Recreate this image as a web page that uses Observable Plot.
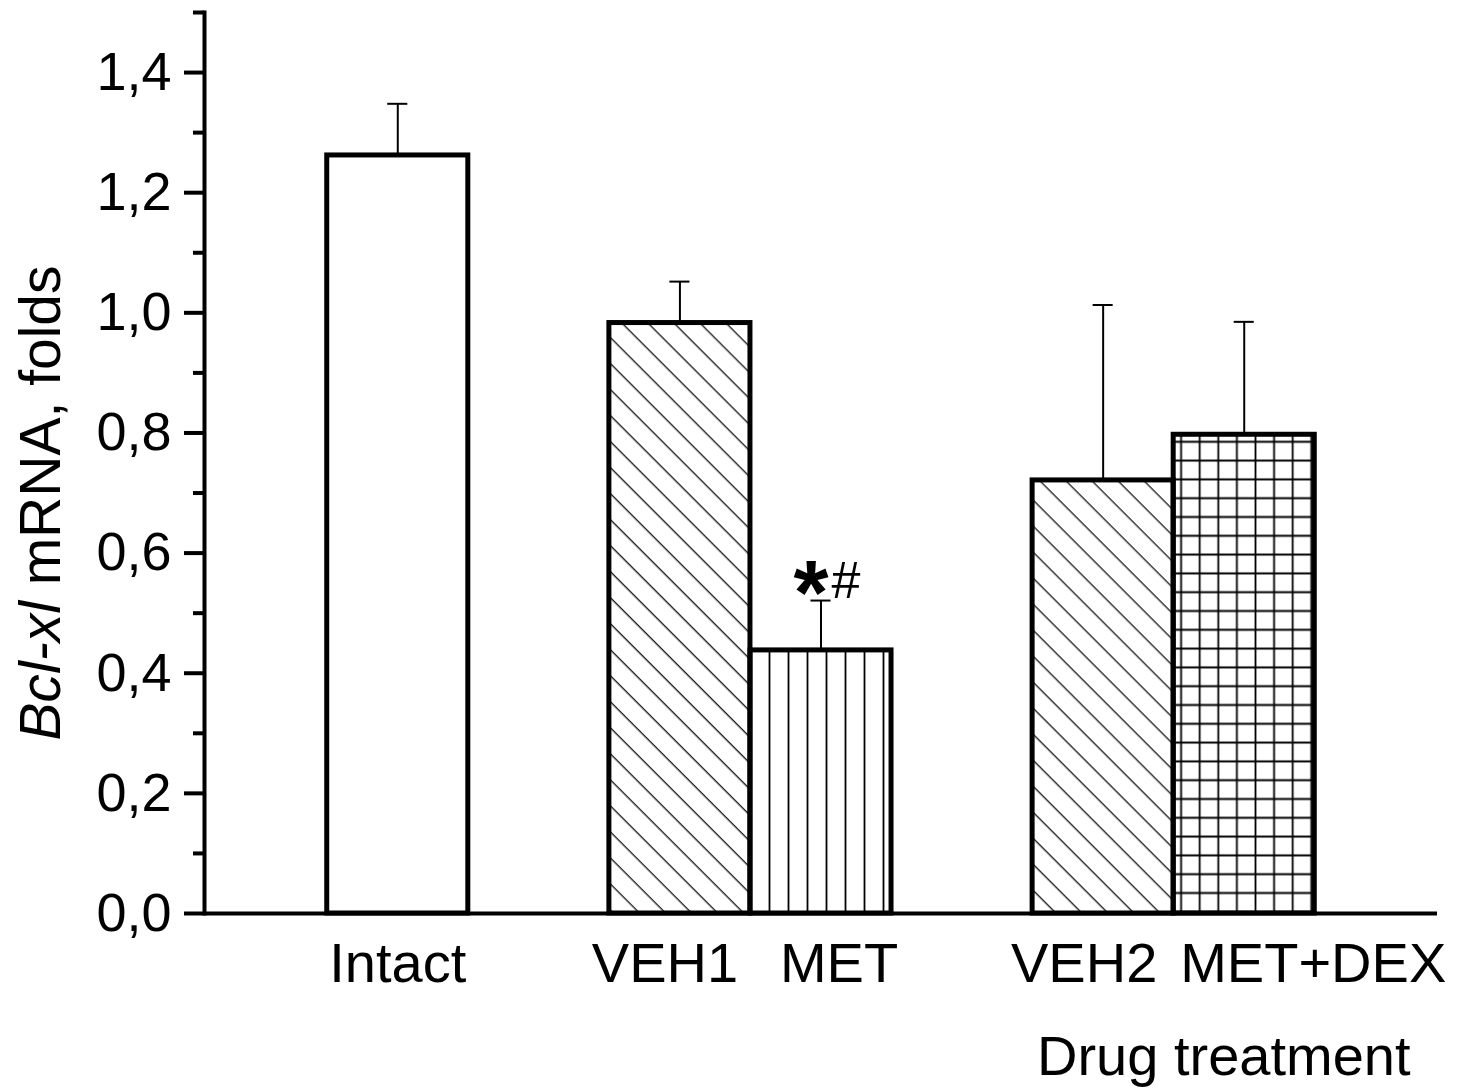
<!DOCTYPE html>
<html><head><meta charset="utf-8">
<script src="https://cdn.jsdelivr.net/npm/d3@7"></script>
<script src="https://cdn.jsdelivr.net/npm/@observablehq/plot@0.6"></script>
<style>body{margin:0;background:#fff;} #chart svg{display:block}</style>
</head><body>
<svg width="0" height="0" style="position:absolute">
<defs>
<pattern id="diag" patternUnits="userSpaceOnUse" width="18.4" height="18.4" patternTransform="rotate(-45)">
<line x1="9" y1="-1" x2="9" y2="19.4" stroke="#222" stroke-width="1.4"/>
</pattern>
<pattern id="vert" patternUnits="userSpaceOnUse" width="19" height="19">
<line x1="9.5" y1="-1" x2="9.5" y2="20" stroke="#000" stroke-width="1.8"/>
</pattern>
<pattern id="grid" patternUnits="userSpaceOnUse" width="18.6" height="18.8">
<path d="M9.3,-1V19.8M-1,9.4H19.6" stroke="#000" stroke-width="1.8" fill="none"/>
</pattern>
</defs>
</svg>
<div id="chart"></div>
<script>
const categories = ["Intact", "VEH1", "MET", "VEH2", "MET+DEX"];
const means = [1.262, 0.983, 0.438, 0.721, 0.797];
const errors = [0.086, 0.069, 0.083, 0.292, 0.188];
const slots = ["Intact", "gap1", "VEH1", "MET", "gap2", "VEH2", "MET+DEX"];
const majorTicks = [0, 0.2, 0.4, 0.6, 0.8, 1.0, 1.2, 1.4];
const minorTicks = [0.1, 0.3, 0.5, 0.7, 0.9, 1.1, 1.3, 1.5];
const annotCat = "MET";
const yLabel = "Bcl-xl mRNA, folds";
const xLabel = "Drug treatment";

const fills = {"Intact": "white", "VEH1": "url(#diag)", "MET": "url(#vert)", "VEH2": "url(#diag)", "MET+DEX": "url(#grid)"};
const labelDx = {"Intact": 0, "VEH1": -15, "MET": 18, "VEH2": -19, "MET+DEX": 69};

const data = categories.map((c, i) => ({cat: c, mean: means[i], err: errors[i]}));
const annot = data.filter(d => d.cat === annotCat);
const fmt = d => d.toFixed(1).replace(".", ",");

const catLabels = categories.map(c =>
  Plot.text([c], {x: d => d, y: () => 0, text: d => d, lineAnchor: "middle", textAnchor: "middle", dy: 51, dx: labelDx[c], fontSize: 56})
);

const plot = Plot.plot({
  width: 1468,
  height: 1088,
  marginLeft: 204,
  marginRight: 31,
  marginTop: 12,
  marginBottom: 175,
  style: {fontFamily: "'Liberation Sans', Arial, sans-serif", color: "#000", background: "#fff"},
  x: {type: "band", domain: slots, paddingInner: 0, paddingOuter: 0.87, round: false, axis: null},
  y: {domain: [0, 1.5], axis: null},
  color: {type: "identity"},
  marks: [
    Plot.ruleX(data, {x: "cat", y1: "mean", y2: d => d.mean + d.err, stroke: "#000", strokeWidth: 2}),
    Plot.tickY(data, {x: "cat", y: d => d.mean + d.err, stroke: "#000", strokeWidth: 2, insetLeft: 60.5, insetRight: 60.5}),
    Plot.barY(data, {x: "cat", y: "mean", fill: d => fills[d.cat], stroke: "#000", strokeWidth: 5, strokeLinejoin: "miter"}),
    Plot.axisY(majorTicks, {tickSize: 20, tickPadding: 13, tickFormat: fmt, fontSize: 54, strokeWidth: 4, label: null}),
    Plot.axisY(minorTicks, {tickSize: 11, tickFormat: () => "", strokeWidth: 4, label: null}),
    Plot.frame({anchor: "left", strokeWidth: 4}),
    Plot.ruleY([0], {strokeWidth: 4}),
    ...catLabels,
    Plot.text(annot, {x: "cat", y: d => d.mean + d.err, text: () => "*", fontSize: 90, fontWeight: "bold", lineAnchor: "middle", dx: -10, dy: -5}),
    Plot.text(annot, {x: "cat", y: d => d.mean + d.err, text: () => "#", fontSize: 52, lineAnchor: "middle", dx: 25, dy: -19}),
    Plot.text([xLabel], {frameAnchor: "bottom-right", textAnchor: "end", lineAnchor: "middle", dx: -27, dy: 144, fontSize: 56}),
    Plot.text([yLabel], {frameAnchor: "left", rotate: -90, textAnchor: "middle", lineAnchor: "middle", dx: -163, dy: 40, fontSize: 57})
  ]
});
document.getElementById("chart").appendChild(plot);

plot.querySelectorAll("text").forEach(t => {
  if (t.textContent === yLabel) {
    t.textContent = "";
    const ns = "http://www.w3.org/2000/svg";
    const a = document.createElementNS(ns, "tspan");
    a.setAttribute("font-style", "italic");
    a.textContent = "Bcl-xl";
    const b = document.createElementNS(ns, "tspan");
    b.textContent = " mRNA, folds";
    t.appendChild(a); t.appendChild(b);
  }
});
</script>
</body></html>
